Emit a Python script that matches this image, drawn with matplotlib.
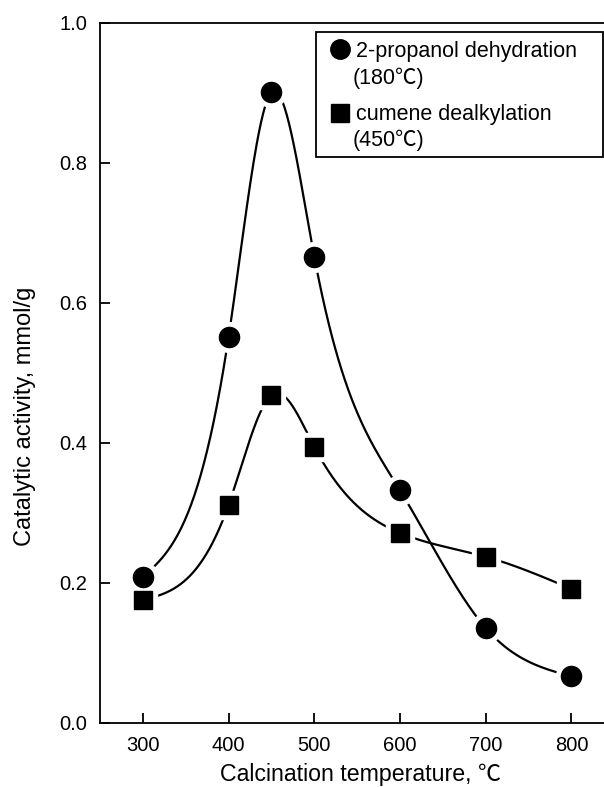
import numpy as np
import matplotlib
matplotlib.use('Agg')
from matplotlib import pyplot as plt
from matplotlib.lines import Line2D
from matplotlib.patches import Rectangle

plt.rcParams['font.family'] = ['Liberation Sans', 'Noto Sans CJK JP', 'DejaVu Sans']

# data
temp = [300, 400, 450, 500, 600, 700, 800]
propanol = [0.208, 0.551, 0.901, 0.666, 0.332, 0.135, 0.066]
cumene = [0.175, 0.311, 0.468, 0.394, 0.271, 0.237, 0.191]
xticks = [300, 400, 500, 600, 700, 800]
yticks = [0.0, 0.2, 0.4, 0.6, 0.8, 1.0]
legend_lines = [('2-propanol dehydration', '(180℃)'), ('cumene dealkylation', '(450℃)')]

W, H = 604, 787


def natural_spline(x, y, n=400):
    # smooth curve through the measured points (drawing only)
    x = np.asarray(x, float)
    y = np.asarray(y, float)
    k = len(x)
    h = np.diff(x)
    A = np.zeros((k, k))
    b = np.zeros(k)
    A[0, 0] = 1
    A[-1, -1] = 1
    for i in range(1, k - 1):
        A[i, i - 1] = h[i - 1]
        A[i, i] = 2 * (h[i - 1] + h[i])
        A[i, i + 1] = h[i]
        b[i] = 6 * ((y[i + 1] - y[i]) / h[i] - (y[i] - y[i - 1]) / h[i - 1])
    M = np.linalg.solve(A, b)
    xs = np.linspace(x[0], x[-1], n)
    idx = np.clip(np.searchsorted(x, xs) - 1, 0, k - 2)
    x0, x1 = x[idx], x[idx + 1]
    hh = x1 - x0
    ys = (M[idx] * (x1 - xs) ** 3 / (6 * hh) + M[idx + 1] * (xs - x0) ** 3 / (6 * hh)
          + (y[idx] / hh - M[idx] * hh / 6) * (x1 - xs)
          + (y[idx + 1] / hh - M[idx + 1] * hh / 6) * (xs - x0))
    return xs, ys


def fx(px):
    return px / W


def fy(py):
    return 1 - py / H


fig = plt.figure(figsize=(W / 100, H / 100), dpi=100)
ax = fig.add_axes([fx(100), 64.5 / H, 514.3 / W, 699.5 / H])

for ys, mk, ms in [(propanol, 'o', 14.5), (cumene, 's', 13.5)]:
    xs, yy = natural_spline(temp, ys)
    ax.plot(xs, yy, color='black', lw=1.6, zorder=2)
    ax.plot(temp, ys, ls='none', marker=mk, ms=ms + 7, color='white', zorder=3)

ax.plot(temp, propanol, ls='none', marker='o', ms=14.5, color='black', zorder=4)
ax.plot(temp, cumene, ls='none', marker='s', ms=13.5, color='black', zorder=4)

ax.set_xlim(250, 850)
ax.set_ylim(0, 1.0)
ax.set_xticks(xticks)
ax.set_yticks(yticks)
ax.set_yticklabels(['%.1f' % v for v in yticks])
ax.tick_params(direction='in', length=7, width=1.3, labelsize=14.5)
ax.tick_params(axis='x', pad=10)
ax.tick_params(axis='y', pad=9)
for s in ax.spines.values():
    s.set_linewidth(1.3)

ax.set_xlabel('Calcination temperature, ℃', fontsize=16.7, va='baseline')
ax.xaxis.set_label_coords((360.7 - 100) / 514.3, -(780.5 - 722.5) / 699.5)
ax.set_ylabel('Catalytic activity, mmol/g', fontsize=17, va='center')
ax.yaxis.set_label_coords((25 - 100) / 514.3, (722.5 - 416) / 699.5)

# legend box drawn by hand so the marker sits on the first text line
fig.add_artist(Rectangle((fx(315.7), fy(156.7)), (603 - 315.7) / W, (156.7 - 32.3) / H,
                         transform=fig.transFigure, facecolor='white',
                         edgecolor='black', lw=1.3, zorder=5))
for (l1, l2), mk, ms, my, b1, b2 in [(legend_lines[0], 'o', 14, 48.7, 56.7, 84),
                                     (legend_lines[1], 's', 13, 112.8, 120, 146)]:
    fig.add_artist(Line2D([fx(340.3)], [fy(my)], transform=fig.transFigure, ls='none',
                          marker=mk, ms=ms, color='black', zorder=6))
    fig.text(fx(356), fy(b1), l1, fontsize=15.5, va='baseline', zorder=6)
    fig.text(fx(353), fy(b2), l2, fontsize=15.5, va='baseline', zorder=6)

plt.savefig('out.png', dpi=100)
